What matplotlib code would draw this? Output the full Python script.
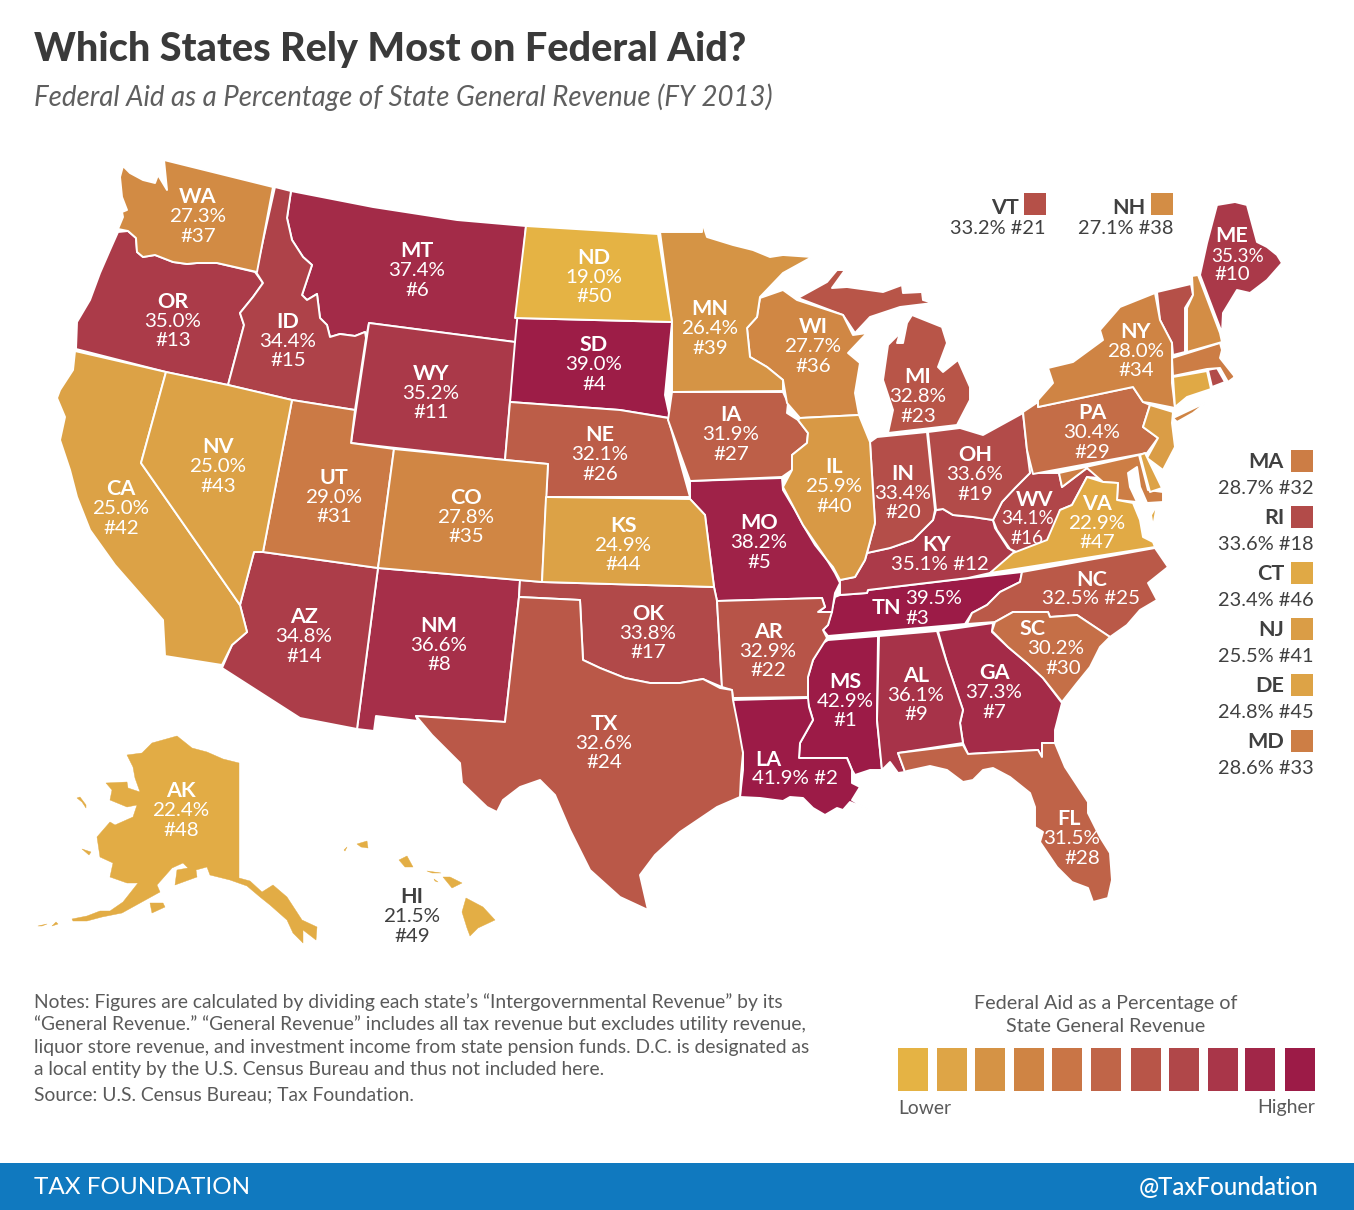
import matplotlib
matplotlib.use('Agg')
import matplotlib.pyplot as plt
import numpy as np
from matplotlib.colors import LinearSegmentedColormap
from matplotlib.patches import Polygon, Rectangle

plt.rcParams['font.family'] = ['Lato', 'DejaVu Sans']

STATES = ['MS', 'LA', 'TN', 'SD', 'MO', 'MT', 'GA', 'NM', 'AL', 'ME', 'WY', 'KY', 'OR', 'AZ', 'ID', 'WV', 'OK', 'RI', 'OH', 'IN',
          'VT', 'AR', 'MI', 'TX', 'NC', 'NE', 'IA', 'FL', 'PA', 'SC', 'UT', 'MA', 'MD', 'NY', 'CO', 'WI', 'WA', 'NH', 'MN', 'IL',
          'NJ', 'CA', 'NV', 'KS', 'DE', 'CT', 'VA', 'AK', 'HI', 'ND']
VALUES = [42.9, 41.9, 39.5, 39.0, 38.2, 37.4, 37.3, 36.6, 36.1, 35.3, 35.2, 35.1, 35.0, 34.8, 34.4, 34.1, 33.8, 33.6, 33.6, 33.4,
          33.2, 32.9, 32.8, 32.6, 32.5, 32.1, 31.9, 31.5, 30.4, 30.2, 29.0, 28.7, 28.6, 28.0, 27.8, 27.7, 27.3, 27.1, 26.4, 25.9,
          25.5, 25.0, 25.0, 24.9, 24.8, 23.4, 22.9, 22.4, 21.5, 19.0]
RANKS = list(range(1, 51))

SCALE_COLORS = ['#e5b344', '#dea546', '#d59345', '#cf8444', '#c97546', '#c06548',
                '#b85548', '#b04749', '#a93649', '#a12648', '#9c1b47']
# which place on the scale a value gets, the scale is not linear in the value
SCALE_VALUES = [19, 22.4, 25, 27.3, 29, 30.4, 32.1, 32.6, 33.6, 35, 36.6, 37.4, 38.2, 39, 39.5]
SCALE_PLACES = [0, 0.5, 1.2, 2.5, 3.7, 4.5, 5.5, 5.8, 6.7, 7.7, 8.4, 8.7, 9.3, 9.8, 10]
NOTES = ['Notes: Figures are calculated by dividing each state\u2019s \u201cIntergovernmental Revenue\u201d by its',
         '\u201cGeneral Revenue.\u201d \u201cGeneral Revenue\u201d includes all tax revenue but excludes utility revenue,',
         'liquor store revenue, and investment income from state pension funds. D.C. is designated as',
         'a local entity by the U.S. Census Bureau and thus not included here.']

# state outlines, traced in image pixels
SHAPES = {
    'WA': [[(123,166),(130,173),(143,180),(155,183),(158,175),(167,190),(164,160),(273,187),(257,272),(217,263),(197,263),(187,264),(173,262),(155,255),(143,257),(137,252),(136,238),(128,231),(118,229),(123,217),(122,212),(127,210),(122,197),(120,177)]],
    'OR': [[(118,232),(128,231),(136,238),(137,252),(143,257),(155,255),(173,262),(187,264),(197,263),(217,263),(255,272),(263,283),(253,297),(240,313),(244,325),(228,385),(166,372),(76,349),(77,322),(90,300),(100,273),(110,250)]],
    'CA': [[(75,351),(166,372),(141,463),(240,605),(247,632),(232,645),(222,665),(165,656),(163,620),(150,605),(115,565),(90,530),(77,497),(70,470),(60,440),(65,417),(57,398),(60,390),(73,370)]],
    'NV': [[(166,372),(228,385),(292,400),(263,552),(254,552),(240,605),(141,463)]],
    'ID': [[(275,187),(291,191),(287,218),(292,240),(303,257),(312,265),(302,295),(307,300),(317,294),(320,318),(327,325),(330,337),(340,334),(355,336),(365,332),(366,338),(355,410),(292,400),(228,385),(244,325),(240,313),(253,297),(263,283),(256,272)]],
    'MT': [[(291,191),(373,207),(457,220),(526,226),(515,342),(369,323),(366,338),(365,332),(355,336),(340,334),(330,337),(327,325),(320,318),(317,294),(307,300),(302,295),(312,265),(303,257),(292,240),(287,218)]],
    'WY': [[(369,323),(515,342),(505,460),(351,443)]],
    'UT': [[(292,400),(355,410),(351,443),(394,449),(378,568),(263,552)]],
    'CO': [[(394,449),(505,460),(548,464),(542,582),(378,568)]],
    'AZ': [[(263,552),(378,568),(357,729),(300,718),(222,668),(232,645),(247,632),(240,605),(254,552)]],
    'NM': [[(378,568),(520,580),(519,597),(505,722),(416,716),(418,721),(376,716),(374,731),(357,729)]],
    'TX': [[(416,716),(505,722),(519,597),(580,600),(583,660),(600,668),(625,678),(650,683),(680,683),(703,679),(720,688),(732,690),(733,700),(738,725),(743,753),(741,775),(740,797),(717,807),(680,832),(655,855),(640,875),(648,910),(620,897),(590,870),(570,830),(555,795),(540,780),(520,787),(503,800),(497,812),(487,807),(462,783),(460,763),(432,735)]],
    'OK': [[(520,580),(542,582),(714,587),(717,601),(722,687),(703,679),(680,683),(650,683),(625,678),(600,668),(583,660),(580,600),(519,597)]],
    'KS': [[(546,497),(690,499),(705,515),(714,587),(542,582)]],
    'NE': [[(510,402),(620,410),(668,418),(690,497),(546,497),(548,464),(505,460)]],
    'SD': [[(515,318),(672,322),(665,395),(670,418),(620,410),(510,402)]],
    'ND': [[(526,226),(658,234),(672,322),(515,318)]],
    'MN': [[(660,232),(702,232),(702,222),(707,237),(733,245),(753,250),(770,257),(783,255),(812,257),(783,273),(760,297),(757,317),(747,328),(750,357),(767,367),(783,380),(783,391),(672,392),(672,322)]],
    'IA': [[(672,392),(783,392),(788,403),(787,413),(798,420),(808,433),(807,443),(792,455),(792,470),(782,477),(690,481),(668,420)]],
    'MO': [[(690,481),(782,478),(783,490),(795,510),(803,525),(815,545),(827,560),(835,573),(840,583),(835,593),(832,612),(818,612),(825,607),(822,598),(717,601),(714,587),(705,515),(690,499)]],
    'AR': [[(717,601),(822,598),(825,607),(818,612),(832,612),(828,625),(823,630),(827,638),(813,660),(808,677),(808,697),(733,698),(732,690),(722,687)]],
    'LA': [[(733,700),(808,698),(809,707),(813,720),(800,743),(799,758),(847,758),(852,770),(852,783),(860,787),(852,800),(869,810),(850,802),(843,810),(837,808),(825,815),(813,808),(803,798),(790,797),(783,801),(760,798),(740,797),(743,770),(743,753),(735,730)]],
    'MS': [[(828,640),(878,636),(877,720),(882,770),(870,770),(855,775),(852,770),(847,758),(799,758),(800,743),(813,720),(808,703),(808,677),(813,660),(823,643)]],
    'AL': [[(879,636),(937,631),(947,663),(963,710),(960,723),(963,743),(898,753),(905,772),(898,773),(890,762),(882,770),(877,720)]],
    'GA': [[(938,631),(993,623),(992,632),(1008,647),(1027,663),(1043,678),(1062,703),(1055,730),(1055,743),(1042,743),(1042,757),(1038,750),(968,754),(963,743),(960,723),(963,710),(947,663)]],
    'FL': [[(898,753),(963,745),(968,754),(1038,750),(1042,757),(1042,743),(1055,743),(1065,767),(1088,802),(1088,813),(1100,837),(1110,853),(1112,880),(1108,898),(1093,902),(1088,888),(1072,882),(1057,867),(1040,842),(1043,832),(1035,827),(1035,807),(1030,793),(1010,777),(993,768),(983,770),(973,780),(963,782),(947,770),(930,766),(907,771),(905,772)],
           [(1080,919),(1086,916),(1084,918)]],
    'TN': [[(840,595),(867,593),(868,590),(970,578),(1022,572),(1020,582),(1000,592),(987,605),(972,613),(965,624),(828,636),(823,630),(828,625),(835,597)]],
    'NC': [[(1022,572),(1155,548),(1168,567),(1148,583),(1157,600),(1140,610),(1127,625),(1110,637),(1077,615),(1050,617),(1048,612),(1013,612),(995,622),(967,624),(972,613),(987,605),(1000,592),(1020,582)]],
    'SC': [[(995,622),(1013,612),(1048,612),(1050,617),(1077,615),(1110,637),(1100,647),(1090,667),(1077,683),(1062,702),(1043,678),(1027,663),(1008,647),(992,631)]],
    'VA': [[(990,573),(1013,553),(1047,540),(1060,510),(1072,505),(1087,477),(1103,482),(1118,483),(1117,500),(1133,503),(1140,520),(1143,537),(1153,542),(1155,547)],
           [(1157,505),(1153,527),(1151,515)]],
    'WV': [[(1027,450),(1033,473),(1059,473),(1062,487),(1087,468),(1100,478),(1087,477),(1072,505),(1060,510),(1052,541),(1023,555),(1010,549),(997,530),(993,520),(1002,502),(1015,488),(1030,473)]],
    'OH': [[(928,432),(960,428),(983,435),(1023,413),(1027,450),(1030,473),(1015,488),(1002,502),(993,520),(973,517),(953,515),(943,509),(936,510)]],
    'IN': [[(870,442),(877,437),(927,432),(935,510),(933,520),(913,540),(890,548),(867,553),(875,523)]],
    'IL': [[(800,418),(859,415),(870,442),(875,523),(865,560),(855,577),(840,580),(833,567),(827,560),(803,525),(783,487),(792,470),(792,455),(807,443),(808,433),(798,420)]],
    'KY': [[(867,553),(890,548),(913,540),(933,520),(936,510),(943,509),(953,515),(973,517),(993,520),(995,528),(1008,548),(1020,555),(990,573),(968,578),(868,590),(867,593),(840,595),(840,580),(855,577),(865,560)]],
    'WI': [[(760,298),(783,290),(797,300),(843,315),(853,335),(867,333),(848,353),(860,363),(855,393),(859,415),(800,418),(787,403),(783,380),(767,367),(750,357),(747,328),(757,317)]],
    'MI': [[(798,298),(827,282),(837,270),(845,270),(832,288),(847,287),(883,292),(902,285),(903,293),(922,292),(923,300),(933,303),(900,307),(870,317),(855,333),(843,315)],
           [(912,315),(942,327),(947,343),(938,367),(943,372),(958,360),(970,387),(970,400),(957,425),(888,433),(893,410),(883,380),(888,345),(900,333),(897,343),(903,343),(907,323)],
           [(817,258),(828,252),(826,255)]],
    'PA': [[(1023,412),(1038,402),(1038,407),(1133,387),(1143,402),(1150,405),(1143,427),(1158,438),(1147,453),(1033,474),(1027,450)]],
    'NY': [[(1048,368),(1073,362),(1103,340),(1100,330),(1120,307),(1155,293),(1160,320),(1172,343),(1172,383),(1175,408),(1150,403),(1143,402),(1133,387),(1038,407),(1038,400),(1053,383)],
           [(1173,418),(1207,402),(1193,413),(1177,422)]],
    'VT': [[(1157,292),(1191,284),(1193,295),(1185,308),(1185,352),(1173,355),(1172,343),(1160,320)]],
    'NH': [[(1192,276),(1198,275),(1220,333),(1222,342),(1187,352),(1187,308),(1193,295)]],
    'ME': [[(1200,275),(1207,243),(1217,205),(1235,202),(1247,205),(1257,242),(1267,247),(1277,255),(1282,263),(1267,280),(1250,293),(1237,290),(1223,313),(1222,333)]],
    'MA': [[(1172,358),(1220,343),(1222,350),(1220,358),(1235,377),(1247,368),(1228,382),(1220,368),(1207,369),(1173,376)]],
    'CT': [[(1173,377),(1207,371),(1211,389),(1187,397),(1175,407)]],
    'RI': [[(1208,370),(1217,368),(1225,382),(1212,387)]],
    'NJ': [[(1150,405),(1173,412),(1172,423),(1175,447),(1163,470),(1147,458),(1158,438),(1143,427)]],
    'DE': [[(1140,455),(1145,453),(1162,488),(1150,492)]],
    'MD': [[(1059,473),(1139,455),(1148,490),(1163,492),(1163,502),(1147,503),(1140,487),(1137,467),(1128,473),(1130,487),(1137,502),(1117,500),(1118,483),(1103,482),(1087,468),(1062,487)]],
    'AK': [[(127,755),(142,753),(152,743),(177,736),(192,748),(207,752),(223,759),(239,763),(239,878),(250,881),(262,892),(273,885),(287,897),(302,920),(317,927),(316,940),(303,930),(303,943),(293,933),(287,920),(270,905),(260,897),(247,886),(230,880),(210,875),(207,867),(196,870),(197,877),(175,885),(177,870),(188,868),(183,863),(172,868),(157,885),(160,892),(122,913),(102,917),(87,921),(73,921),(72,919),(87,916),(100,911),(110,911),(123,902),(138,883),(127,883),(110,877),(113,863),(100,857),(97,837),(110,822),(115,825),(133,817),(137,805),(127,807),(110,800),(112,790),(106,783),(127,782),(128,788),(140,792),(135,778),(133,767)],
           [(150,903),(163,903),(165,907),(152,913)],
           [(77,798),(80,797),(86,805),(86,808),(82,802)],
           [(82,849),(91,852),(89,855)],
           [(38,926),(47,924),(42,926)],
           [(52,926),(56,922),(58,924)]],
    'HI': [[(466,898),(483,907),(495,920),(478,928),(470,936),(467,928),(462,912)],
           [(443,877),(450,877),(462,883),(452,888)],
           [(399,860),(407,856),(413,867),(405,867)],
           [(357,844),(367,841),(368,848),(361,847)],
           [(427,871),(441,873),(432,873)],
           [(434,879),(438,882),(435,881)],
           [(344,850),(347,847),(345,851)]],
}

# where the labels go: name, then percent, then rank
LABELS = {
    'WA': (198,195), 'OR': (173,300), 'CA': (121,487), 'NV': (218,445), 'ID': (288,320), 'MT': (417,249), 'WY': (431,372),
    'UT': (334,476), 'AZ': (304,615), 'CO': (466,496), 'NM': (439,624), 'ND': (594,256), 'SD': (594,343), 'NE': (600,433),
    'KS': (623,524), 'OK': (648,612), 'TX': (604,722), 'MN': (710,307), 'IA': (731,413), 'MO': (759,521), 'AR': (768,630),
    'WI': (813,325), 'IL': (834,465), 'MI': (918,375), 'IN': (903,472), 'OH': (975,453), 'MS': (845,680), 'AL': (916,674),
    'GA': (994,671), 'VA': (1097,502), 'PA': (1092,411), 'NY': (1136,330), 'AK': (181,789),
    'HI': (412,895),
}
# the side list for states too small to hold a label
SIDE_TWO_LINE = ['MA', 'RI', 'CT', 'NJ', 'DE', 'MD']


def px(font_px):
    return font_px * 72 / 100


dark = '#404040'
grey = '#5a5a5a'
fig = plt.figure(figsize=(13.54, 12.10), dpi=100)
ax = fig.add_axes([0, 0, 1, 1])
ax.set_xlim(0, 1354)
ax.set_ylim(1210, 0)
ax.axis('off')

cmap = LinearSegmentedColormap.from_list('aid', SCALE_COLORS)
value_of = dict(zip(STATES, VALUES))
rank_of = dict(zip(STATES, RANKS))
color_of = {s: cmap(np.interp(value_of[s], SCALE_VALUES, SCALE_PLACES) / 10) for s in STATES}

for s in STATES:
    # AK and HI are all coast and slivers, a white edge would eat them
    edge = color_of[s] if s in ('AK', 'HI') else 'white'
    lw = 0.3 if s in ('AK', 'HI') else 1.4
    for ring in SHAPES[s]:
        ax.add_patch(Polygon(ring, closed=True, facecolor=color_of[s], edgecolor=edge, linewidth=lw, joinstyle='round'))


def label(x, y, text, bold=False, color='white', ha='center', size=20.5):
    ax.text(x, y + 2, text, ha=ha, va='center', color=color, fontsize=px(21.5 if bold else size),
            fontweight='bold' if bold else 'normal')


for s, (x, y) in LABELS.items():
    c = dark if s == 'HI' else 'white'
    label(x, y, s, bold=True, color=c)
    label(x, y + 19.5, f'{value_of[s]:.1f}%', color=c)
    label(x, y + 39, f'#{rank_of[s]}', color=c)

# labels that do not follow the three line stack
label(768, 758, 'LA', bold=True)
label(795, 777, f"{value_of['LA']:.1f}% #{rank_of['LA']}")
label(937, 543, 'KY', bold=True)
label(940, 562, f"{value_of['KY']:.1f}% #{rank_of['KY']}")
label(886, 606, 'TN', bold=True)
label(934, 597, f"{value_of['TN']:.1f}%")
label(917, 617, f"#{rank_of['TN']}")
label(1092, 578, 'NC', bold=True)
label(1091, 597, f"{value_of['NC']:.1f}% #{rank_of['NC']}")
label(1033, 627, 'SC', bold=True)
label(1056, 647, f"{value_of['SC']:.1f}%")
label(1063, 667, f"#{rank_of['SC']}")
label(1069, 817, 'FL', bold=True)
label(1072, 837, f"{value_of['FL']:.1f}%")
label(1082, 857, f"#{rank_of['FL']}")
label(1035, 498, 'WV', bold=True)
label(1028, 517, f"{value_of['WV']:.1f}%", size=19)
label(1027, 536, f"#{rank_of['WV']}", size=19)
label(1232, 234, 'ME', bold=True)
label(1238, 254, f"{value_of['ME']:.1f}%", size=19)
label(1232, 273, f"#{rank_of['ME']}")

# VT and NH sit above the map, the rest in a column on the right
for s, right in [('VT', 1046), ('NH', 1173)]:
    ax.add_patch(Rectangle((right - 22, 193), 22, 22, facecolor=color_of[s], edgecolor='none'))
    label(right - 27, 206, s, bold=True, color=dark, ha='right')
    label(right, 227, f'{value_of[s]:.1f}% #{rank_of[s]}', color=dark, ha='right', size=20)
for i, s in enumerate(SIDE_TWO_LINE):
    top = 450 + i * 56
    ax.add_patch(Rectangle((1291, top), 22, 22, facecolor=color_of[s], edgecolor='none'))
    label(1284, top + 10, s, bold=True, color=dark, ha='right')
    label(1314, top + 36.5, f'{value_of[s]:.1f}% #{rank_of[s]}', color=dark, ha='right', size=20)

# colour scale
scale_left = [898, 937, 975, 1014, 1052, 1091, 1131, 1169, 1208, 1245, 1285]
for left, c in zip(scale_left, SCALE_COLORS):
    ax.add_patch(Rectangle((left, 1048), 30, 43, facecolor=c, edgecolor='none'))
ax.text(1106, 1004, 'Federal Aid as a Percentage of', ha='center', va='center', color=grey, fontsize=px(19.8))
ax.text(1106, 1026, 'State General Revenue', ha='center', va='center', color=grey, fontsize=px(19.8))
ax.text(898, 1108, 'Lower', ha='left', va='center', color=grey, fontsize=px(19.3))
ax.text(1315, 1108, 'Higher', ha='right', va='center', color=grey, fontsize=px(19.5))

# title block
ax.text(34, 50, 'Which States Rely Most on Federal Aid?', ha='left', va='center', color='#3a3a3a', fontsize=px(39.6), fontweight='black')
ax.text(34, 97, 'Federal Aid as a Percentage of State General Revenue (FY 2013)', ha='left', va='center', color='#5f5f5f', fontsize=px(27.6), fontstyle='italic')

# notes
for i, line in enumerate(NOTES):
    ax.text(34, 1002 + i * 22.5, line, ha='left', va='center', color=grey, fontsize=px(19.3))
ax.text(34, 1095, 'Source: U.S. Census Bureau; Tax Foundation.', ha='left', va='center', color=grey, fontsize=px(19.3))

# footer
ax.add_patch(Rectangle((0, 1163), 1354, 47, facecolor='#1079bf', edgecolor='none'))
ax.text(34, 1188, 'TAX FOUNDATION', ha='left', va='center', color='white', fontsize=px(24.2))
ax.text(1318, 1188, '@TaxFoundation', ha='right', va='center', color='white', fontsize=px(24), fontweight='medium')

plt.savefig('out.png', dpi=100)
